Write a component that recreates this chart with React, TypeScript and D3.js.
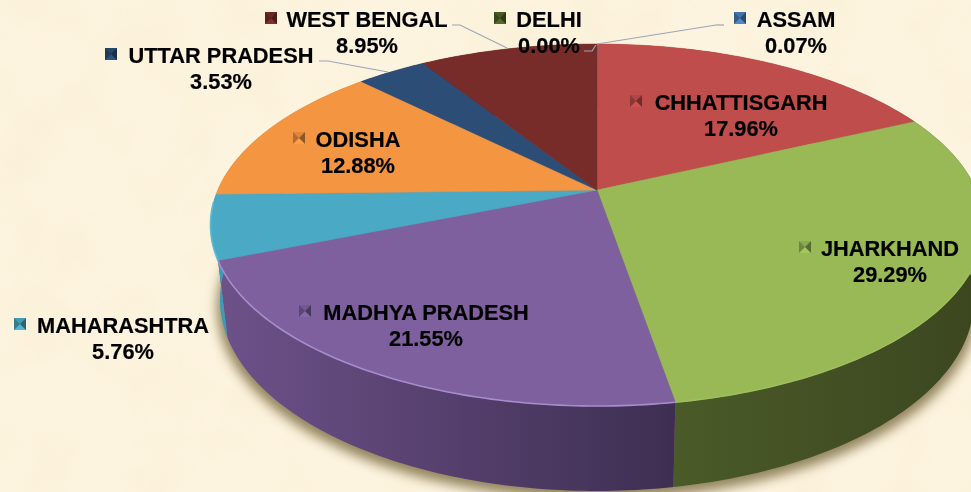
import * as d3 from 'd3';

const W = 971;
const H = 492;

const NAMES = ['ASSAM', 'CHHATTISGARH', 'JHARKHAND', 'MADHYA PRADESH', 'MAHARASHTRA', 'ODISHA', 'UTTAR PRADESH', 'WEST BENGAL', 'DELHI'];
const VALUES = [0.07, 17.96, 29.29, 21.55, 5.76, 12.88, 3.53, 8.95, 0.0];

const TOP_COLORS = ['#4a7ebb', '#be4d4b', '#98b956', '#7f609f', '#4aa9c4', '#f49542', '#2c4d75', '#772c2a', '#4f6228'];
const RIM_COLORS = ['#4a7ebb', '#be4d4b', '#9ebf5c', '#a68dcb', '#5cbcd6', '#f49542', '#2c4d75', '#772c2a', '#4f6228'];
const SIDE_STOPS = [
  ['#3a6496', '#3a6496'],
  ['#8f3836', '#8f3836'],
  ['#4a5a28', '#3c4720'],
  ['#6d5189', '#3e2f52'],
  ['#3a9cb8', '#3a9cb8'],
  ['#b86f30', '#b86f30'],
  ['#213a58', '#213a58'],
  ['#59211f', '#59211f'],
  ['#3b4a1e', '#3b4a1e'],
];

// text layout of the data labels: centre of the text, first baseline, legend key x
const LABEL_LAYOUT = [
  { cx: 796, y: 27, keyX: 734 },
  { cx: 741, y: 110, keyX: 630 },
  { cx: 890, y: 256, keyX: 799 },
  { cx: 426, y: 320, keyX: 299 },
  { cx: 123, y: 333, keyX: 14 },
  { cx: 358, y: 147, keyX: 293 },
  { cx: 221, y: 63, keyX: 105 },
  { cx: 367, y: 27, keyX: 265 },
  { cx: 549, y: 27, keyX: 494 },
];

const LEADERS = [
  [[716, 25], [724, 25]],
  [[597, 44], [716, 25]],
  [[319, 61], [328, 61], [388, 72]],
  [[452, 25], [460, 25], [507, 48]],
  [[584, 51], [592, 51], [596, 45]],
];

const TOP_E = { cx: 597, cy: 225, rx: 386.5, ry: 181 };
const BOT_E = { cx: 597, cy: 300, rx: 377, ry: 191 };
const APEX_V = -0.193; // where the pie centre sits inside the tilted ellipse

// perspective: angle on the flat circle -> point on an ellipse
function project(angle: number, e: typeof TOP_E): [number, number] {
  const x = Math.sin(angle);
  const y = -Math.cos(angle);
  const den = 1 + APEX_V * y;
  const v = (y + APEX_V) / den;
  const u = (x * Math.sqrt(1 - APEX_V * APEX_V)) / den;
  return [e.cx + u * e.rx, e.cy + v * e.ry];
}

const apex: [number, number] = [TOP_E.cx, TOP_E.cy + APEX_V * TOP_E.ry];

const pie = d3.pie<number>().sort(null).startAngle(0).endAngle(2 * Math.PI);
const arcs = pie(VALUES);
const line = d3.line();

function sample(a0: number, a1: number, e: typeof TOP_E) {
  const n = Math.max(2, Math.ceil(Math.abs(a1 - a0) * 60));
  return d3.range(n + 1).map((i) => project(a0 + ((a1 - a0) * i) / n, e));
}

function Key({ x, y, color }: { x: number; y: number; color: string }) {
  const s = 12;
  const c = d3.color(color)!;
  const cx = x + s / 2;
  const cy = y + s / 2;
  const tri = (pts: number[][]) => pts.map((p) => p.join(',')).join(' ');
  return (
    <g>
      <rect x={x} y={y} width={s} height={s} fill={c.toString()} />
      <polygon points={tri([[x, y], [x + s, y], [cx, cy]])} fill={c.darker(0.25).toString()} />
      <polygon points={tri([[x, y + s], [x + s, y + s], [cx, cy]])} fill={c.brighter(0.2).toString()} />
      <polygon points={tri([[x, y], [x, y + s], [cx, cy]])} fill={c.darker(0.9).toString()} />
      <polygon points={tri([[x + s, y], [x + s, y + s], [cx, cy]])} fill={c.darker(1.5).toString()} />
    </g>
  );
}

export default function App() {
  const pct = (v: number) => v.toFixed(2) + '%';
  return (
    <svg width={W} height={H} viewBox={`0 0 ${W} ${H}`} style={{ position: 'fixed', left: 0, top: 0, display: 'block' }}>
      <defs>
        <filter id="paper" x="0" y="0" width="100%" height="100%">
          <feTurbulence type="fractalNoise" baseFrequency="0.014" numOctaves="3" seed="7" />
          <feColorMatrix values="0 0 0 0 0.93  0 0 0 0 0.84  0 0 0 0 0.62  1.3 0 0 0 -0.45" />
        </filter>
        <filter id="shade" x="-10%" y="-10%" width="120%" height="120%">
          <feGaussianBlur stdDeviation="6" />
        </filter>
        <filter id="soft" x="-5%" y="-20%" width="110%" height="140%">
          <feGaussianBlur stdDeviation="0.3" />
        </filter>
        {SIDE_STOPS.map((s, i) => (
          <linearGradient key={i} id={`side${i}`} gradientUnits="userSpaceOnUse" x1={i === 2 ? 672 : 220} x2={i === 2 ? 971 : 672} y1="0" y2="0">
            <stop offset="0" stopColor={s[0]} />
            <stop offset="1" stopColor={s[1]} />
          </linearGradient>
        ))}
      </defs>

      <rect width={W} height={H} fill="#fdf4e0" />
      <rect width={W} height={H} filter="url(#paper)" opacity={0.6} />

      {/* shadow under the pie */}
      <ellipse cx={BOT_E.cx} cy={BOT_E.cy + 8} rx={BOT_E.rx + 3} ry={BOT_E.ry} fill="#6e5f30" opacity={0.75} filter="url(#shade)" />

      {/* side wall */}
      {arcs.map((a, i) => {
        if (a.endAngle - a.startAngle < 1e-4) return null;
        const upper = sample(a.startAngle, a.endAngle, TOP_E);
        const lower = sample(a.endAngle, a.startAngle, BOT_E);
        return <path key={i} d={line([...upper, ...lower])! + 'Z'} fill={`url(#side${i})`} />;
      })}

      {/* top face */}
      {arcs.map((a, i) => {
        if (a.endAngle - a.startAngle < 1e-4) return null;
        const pts = [apex, ...sample(a.startAngle, a.endAngle, TOP_E)];
        return <path key={i} d={line(pts as [number, number][])! + 'Z'} fill={TOP_COLORS[i]} stroke={TOP_COLORS[i]} strokeWidth={0.5} />;
      })}
      {/* lit rim along the front edge only */}
      {arcs.map((a, i) => {
        if (a.endAngle - a.startAngle < 1e-4) return null;
        const rim = sample(a.startAngle, a.endAngle, TOP_E).filter((p) => p[1] > 200);
        if (rim.length < 2) return null;
        return <path key={i} d={line(rim)!} fill="none" stroke={RIM_COLORS[i]} strokeWidth={1.6} />;
      })}

      {LEADERS.map((l, i) => (
        <path key={i} d={line(l as [number, number][])!} fill="none" stroke="#9aa6b8" strokeWidth={1.2} />
      ))}

      {/* data labels */}
      <g filter="url(#soft)">
        {NAMES.map((name, i) => {
          const l = LABEL_LAYOUT[i];
          return (
            <g key={name}>
              <Key x={l.keyX} y={l.y - 15} color={TOP_COLORS[i]} />
              <text x={l.cx} y={l.y} textAnchor="middle" fontFamily="'Liberation Sans', Arial, sans-serif" fontWeight="700" fontSize={21.8} fill="#000" stroke="#000" strokeWidth={0.2}>
                {name}
              </text>
              <text x={l.cx} y={l.y + 25.5} textAnchor="middle" fontFamily="'Liberation Sans', Arial, sans-serif" fontWeight="700" fontSize={21.8} fill="#000" stroke="#000" strokeWidth={0.2}>
                {pct(VALUES[i])}
              </text>
            </g>
          );
        })}
      </g>
    </svg>
  );
}
